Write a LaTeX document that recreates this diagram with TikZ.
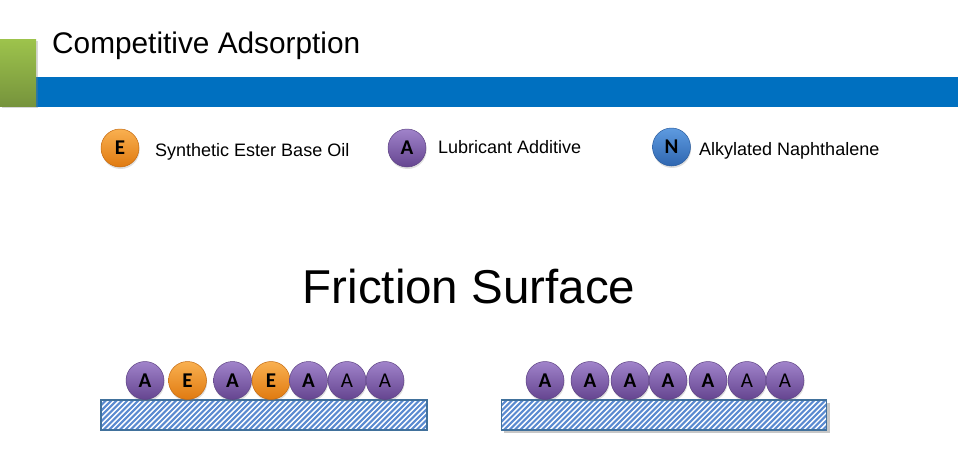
\documentclass[tikz,border=0pt]{standalone}
\usepackage{fontspec}
\setmainfont{Liberation Sans}
\newfontfamily\ballfont{Carlito}
\usetikzlibrary{shadows}
\definecolor{barblue}{HTML}{0070C0}
\definecolor{greentop}{HTML}{9DC34C}
\definecolor{greenbot}{HTML}{76933C}
\definecolor{ptop}{HTML}{A083CA}
\definecolor{pbot}{HTML}{654590}
\definecolor{pdraw}{HTML}{5E4384}
\definecolor{otop}{HTML}{F9B050}
\definecolor{obot}{HTML}{E07A10}
\definecolor{odraw}{HTML}{C46A10}
\definecolor{ntop}{HTML}{5E9BE0}
\definecolor{nbot}{HTML}{2F66B0}
\definecolor{ndraw}{HTML}{2A5C9E}
\definecolor{hatchblue}{HTML}{5A8AD0}
\definecolor{surfdraw}{HTML}{41719C}
\tikzset{
  ballbase/.style={circle, minimum size=38pt, inner sep=0pt, line width=0.5pt,
    font=\ballfont\bfseries\fontsize{21}{21}\selectfont,
    drop shadow={shadow xshift=0.6pt, shadow yshift=-2pt, opacity=0.25}},
  aball/.style={ballbase, top color=ptop, bottom color=pbot, draw=pdraw},
  eball/.style={ballbase, top color=otop, bottom color=obot, draw=odraw},
  nball/.style={ballbase, top color=ntop, bottom color=nbot, draw=ndraw},
  thin/.style={font=\ballfont\fontsize{21}{21}\selectfont},
  legtext/.style={anchor=base west, inner sep=0pt, font=\fontsize{18}{21}\selectfont},
  hatchline/.style={draw=hatchblue, line width=2.1pt},
  surfborder/.style={draw=surfdraw, line width=1.8pt},
}
\begin{document}
\begin{tikzpicture}[x=1pt,y=-1pt]
\useasboundingbox[fill=white] (0,0) rectangle (958,466);
% header
\fill[barblue] (36,77) rectangle (958,106.5);
\shade[top color=greentop, bottom color=greenbot, drop shadow={shadow xshift=1.5pt, shadow yshift=-1.5pt, opacity=0.3}]
  (0,39.5) rectangle (36,106.5);
\node[anchor=base west, inner sep=0pt, font=\fontsize{29.8}{34}\selectfont] (title) at (52,53.5) {Competitive Adsorption};
% legend
\node[eball] (legE) at (120,148) {E};
\node[legtext] (legEt) at (155,156.5) {Synthetic Ester Base Oil};
\node[aball] (legA) at (407,148) {A};
\node[legtext] (legAt) at (438,153.5) {Lubricant Additive};
\node[nball] (legN) at (671.5,147) {N};
\node[legtext] (legNt) at (699,155.5) {Alkylated Naphthalene};
% heading
\node[anchor=base, inner sep=0pt, font=\fontsize{47.5}{54}\selectfont] (fs) at (469,303) {Friction Surface};
% left surface
\begin{scope}
  \clip (101,400) rectangle (427,430);
  \foreach \i in {0,...,66} \draw[hatchline] (71+\i*5.4,430) -- (101+\i*5.4,400);
\end{scope}
\draw[surfborder] (101,400) rectangle (427,430);
\node[aball] (l1) at (145,380.5) {A};
\node[eball] (l2) at (187.5,380.5) {E};
\node[aball] (l3) at (232.5,380.5) {A};
\node[eball] (l4) at (271,380.5) {E};
\node[aball] (l5) at (308.5,380.5) {A};
\node[aball, thin] (l6) at (347,380.5) {A};
\node[aball, thin] (l7) at (385,380.5) {A};
% right surface
\fill[black, opacity=0.22] (504,403) rectangle (829.5,433);
\fill[white] (501.5,400) rectangle (826.5,430);
\begin{scope}
  \clip (501.5,400) rectangle (826.5,430);
  \foreach \i in {0,...,66} \draw[hatchline] (471.5+\i*5.4,430) -- (501.5+\i*5.4,400);
\end{scope}
\draw[surfborder] (501.5,400) rectangle (826.5,430);
\node[aball] (r1) at (545,380.5) {A};
\node[aball] (r2) at (590,380.5) {A};
\node[aball] (r3) at (630,380.5) {A};
\node[aball] (r4) at (668,380.5) {A};
\node[aball] (r5) at (708,380.5) {A};
\node[aball, thin] (r6) at (747,380.5) {A};
\node[aball, thin] (r7) at (785,380.5) {A};
\end{tikzpicture}
\end{document}
